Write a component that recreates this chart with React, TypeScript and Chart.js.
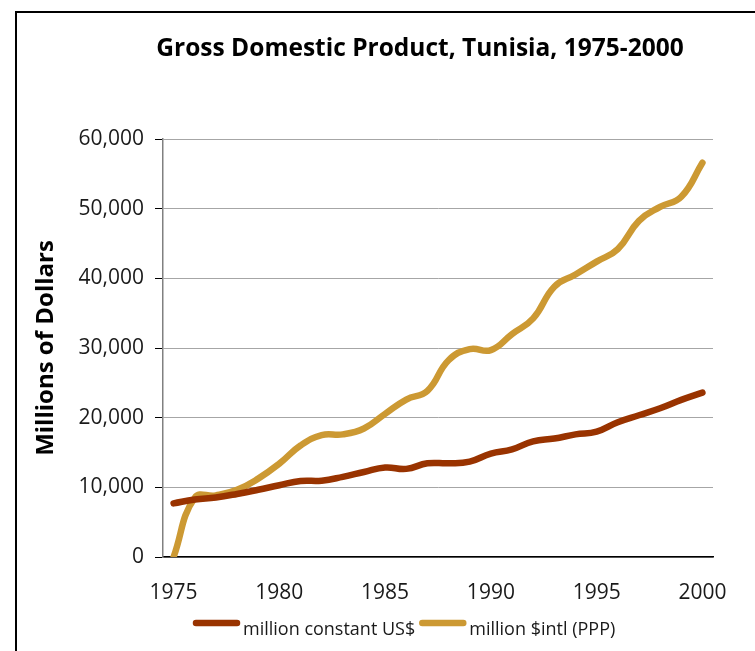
import { useEffect, useRef } from "react";
import { Chart, registerables } from "chart.js";

Chart.register(...registerables);

const TITLE = "Gross Domestic Product, Tunisia, 1975-2000";
const Y_TITLE = "Millions of Dollars";
const years = [
  "1975", "1976", "1977", "1978", "1979", "1980", "1981", "1982", "1983", "1984",
  "1985", "1986", "1987", "1988", "1989", "1990", "1991", "1992", "1993", "1994",
  "1995", "1996", "1997", "1998", "1999", "2000",
];
const constantUSD = [
  7700, 8250, 8550, 9050, 9650, 10300, 10900, 10950, 11500, 12200,
  12850, 12650, 13450, 13450, 13700, 14850, 15450, 16600, 17000, 17600,
  18000, 19350, 20350, 21350, 22550, 23600,
];
const intlPPP = [
  0, 8500, 8850, 9650, 11250, 13400, 16000, 17500, 17600, 18450,
  20550, 22600, 23850, 28250, 29850, 29700, 32000, 34250, 38800, 40550,
  42400, 44200, 48250, 50250, 51700, 56600,
];
const seriesNames = ["million constant US$", "million $intl (PPP)"];
const seriesColors = ["#993300", "#CC9933"];
const yMin = 0;
const yMax = 60000;
const yStep = 10000;
const labelEvery = 5;

const FONT = '"Open Sans", "Noto Sans", sans-serif';

const overlayPlugin = {
  id: "overlay",
  afterDraw(chart: any) {
    const ctx = chart.ctx;
    ctx.save();
    ctx.fillStyle = "#000";
    ctx.font = `bold 24.5px ${FONT}`;
    ctx.textAlign = "center";
    ctx.textBaseline = "alphabetic";
    ctx.fillText(TITLE, 420, 56);

    // legend
    ctx.font = `18px ${FONT}`;
    ctx.textAlign = "left";
    let x = 196;
    const y = 623;
    chart.data.datasets.forEach((ds: any) => {
      ctx.strokeStyle = ds.borderColor;
      ctx.lineWidth = 6.5;
      ctx.lineCap = "round";
      ctx.beginPath();
      ctx.moveTo(x, y);
      ctx.lineTo(x + 41, y);
      ctx.stroke();
      ctx.fillStyle = "#1a1a1a";
      const tx = x + 47;
      ctx.fillText(ds.label, tx, 635);
      x = tx + ctx.measureText(ds.label).width + 7;
    });
    ctx.restore();
  },
};

export default function App() {
  const ref = useRef<HTMLCanvasElement>(null);
  useEffect(() => {
    if (!ref.current) return;
    const chart = new Chart(ref.current, {
      type: "line",
      data: {
        labels: years,
        datasets: [
          {
            label: seriesNames[0],
            data: constantUSD,
            borderColor: seriesColors[0],
            backgroundColor: seriesColors[0],
            borderWidth: 6.5,
            borderCapStyle: "round",
            borderJoinStyle: "round",
            pointRadius: 0,
            tension: 0.45,
          },
          {
            label: seriesNames[1],
            data: intlPPP,
            borderColor: seriesColors[1],
            backgroundColor: seriesColors[1],
            borderWidth: 6.5,
            borderCapStyle: "round",
            borderJoinStyle: "round",
            pointRadius: 0,
            tension: 0.45,
          },
        ],
      },
      options: {
        animation: false,
        responsive: false,
        maintainAspectRatio: false,
        layout: { padding: { left: 20, right: 42, top: 139, bottom: 0 } },
        plugins: {
          legend: { display: false },
          title: { display: false },
          tooltip: { enabled: false },
        },
        scales: {
          x: {
            offset: true,
            grid: { display: false },
            border: { display: true, color: "#000", width: 1.5 },
            ticks: {
              autoSkip: false,
              maxRotation: 0,
              padding: 15,
              color: "#1a1a1a",
              font: { family: FONT, size: 21 },
              callback: function (this: any, _v: any, i: number) {
                const lab = years[i];
                return Number(lab) % labelEvery === 0 ? lab : "";
              },
            },
            afterFit(scale: any) {
              scale.height = 94;
            },
          },
          y: {
            min: yMin,
            max: yMax,
            grid: {
              color: "#a6a6a6",
              lineWidth: 1,
              tickColor: "#000",
              tickLength: 8,
              drawTicks: true,
            },
            border: { display: true, color: "#808080", width: 1.5 },
            ticks: {
              stepSize: yStep,
              padding: 11,
              color: "#1a1a1a",
              font: { family: FONT, size: 21 },
              callback: (v: any) => Number(v).toLocaleString("en-US"),
            },
            title: {
              display: true,
              text: Y_TITLE,
              color: "#000",
              font: { family: FONT, size: 24, weight: "bold" },
              padding: { top: 12, bottom: 0 },
            },
            afterFit(scale: any) {
              scale.width = 143;
            },
          },
        },
      },
      plugins: [overlayPlugin],
    });
    return () => chart.destroy();
  }, []);

  return (
    <div
      style={{
        position: "absolute",
        left: 0,
        top: 0,
        width: 755,
        height: 651,
        overflow: "hidden",
        background: "#fff",
      }}
    >
      <div
        style={{
          position: "absolute",
          left: 15,
          top: 11,
          width: 900,
          height: 800,
          borderLeft: "2px solid #000",
          borderTop: "2px solid #000",
        }}
      />
      <canvas
        ref={ref}
        width={755}
        height={651}
        style={{ position: "absolute", left: 0, top: 0, width: 755, height: 651 }}
      />
    </div>
  );
}
